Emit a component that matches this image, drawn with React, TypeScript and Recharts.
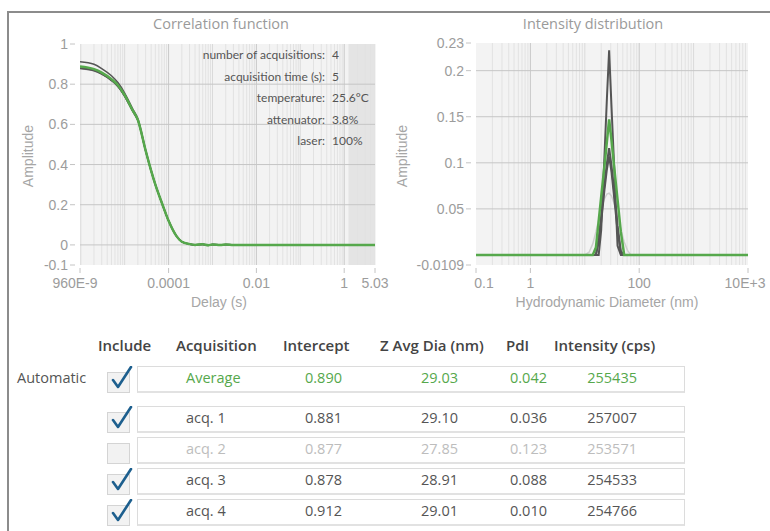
import { CartesianGrid, Line, LineChart, ReferenceArea, ReferenceLine, XAxis, YAxis } from "recharts";

// correlation function (delay in s)
const delays = [9.6e-7, 2e-6, 3e-6, 5e-6, 7e-6, 1e-5, 1.5e-5, 2e-5, 3e-5, 4e-5, 5e-5, 7e-5, 1e-4, 1.5e-4, 2e-4, 3e-4, 4e-4, 6e-4, 8e-4, 1e-3, 1.5e-3, 2e-3, 3e-3, 5e-3, 1e-2, 0.1, 1, 5.03];
const corrAvg = [0.888, 0.875, 0.858, 0.825, 0.795, 0.745, 0.672, 0.622, 0.47, 0.37, 0.3, 0.21, 0.12, 0.045, 0.016, 0.004, 0.0, 0.003, -0.002, 0.002, -0.001, 0.002, 0.0, 0.0, 0.0, 0.0, 0.0, 0.0];
const corrAcq1 = [0.881, 0.869, 0.852, 0.82, 0.79, 0.741, 0.669, 0.62, 0.468, 0.368, 0.299, 0.209, 0.12, 0.045, 0.016, 0.004, 0.001, 0.002, -0.001, 0.003, 0.0, 0.001, 0.0, 0.0, 0.0, 0.0, 0.0, 0.0];
const corrAcq2 = [0.877, 0.866, 0.85, 0.818, 0.789, 0.74, 0.668, 0.619, 0.467, 0.367, 0.298, 0.208, 0.119, 0.044, 0.016, 0.005, 0.002, 0.0, 0.002, -0.001, 0.002, 0.0, 0.001, 0.0, 0.0, 0.0, 0.0, 0.0];
const corrAcq3 = [0.878, 0.867, 0.85, 0.818, 0.789, 0.74, 0.668, 0.619, 0.467, 0.368, 0.299, 0.209, 0.12, 0.045, 0.016, 0.003, 0.0, 0.004, -0.003, 0.001, -0.002, 0.003, 0.0, 0.0, 0.0, 0.0, 0.0, 0.0];
const corrAcq4 = [0.912, 0.899, 0.878, 0.842, 0.808, 0.756, 0.68, 0.628, 0.474, 0.373, 0.302, 0.212, 0.121, 0.046, 0.016, 0.004, 0.0, 0.002, -0.002, 0.002, -0.001, 0.001, 0.0, 0.0, 0.0, 0.0, 0.0, 0.0];
const corrTicksX = [9.6e-7, 1e-4, 0.01, 1, 5.03];
const corrTickLabels = ["960E-9", "0.0001", "0.01", "1", "5.03"];
const corrTicksY = [1, 0.8, 0.6, 0.4, 0.2, 0, -0.1];

// intensity distribution (hydrodynamic diameter in nm)
const sizes = [0.1, 1, 10, 12, 14, 16, 18, 20, 23, 25.5, 28, 31, 35, 40, 46, 53, 61, 70, 80, 100, 1000, 10000];
const distAvg = [0, 0, 0, 0, 0, 0.008, 0.037, 0.063, 0.097, 0.123, 0.147, 0.124, 0.093, 0.06, 0.025, 0, 0, 0, 0, 0, 0, 0];
const distAcq1 = [0, 0, 0, 0, 0, 0, 0.018, 0.042, 0.077, 0.1, 0.116, 0.097, 0.066, 0.032, 0.004, 0, 0, 0, 0, 0, 0, 0];
const distAcq2 = [0, 0, 0, 0.003, 0.012, 0.025, 0.038, 0.05, 0.061, 0.066, 0.067, 0.064, 0.055, 0.042, 0.028, 0.014, 0.005, 0, 0, 0, 0, 0];
const distAcq3 = [0, 0, 0, 0, 0, 0, 0.014, 0.036, 0.071, 0.093, 0.107, 0.09, 0.06, 0.026, 0.002, 0, 0, 0, 0, 0, 0, 0];
const distAcq4 = [0, 0, 0, 0, 0, 0, 0, 0.027, 0.108, 0.17, 0.222, 0.16, 0.09, 0.01, 0, 0, 0, 0, 0, 0, 0, 0];
const distTicksX = [0.1, 1, 100, 10000];
const distTickLabels = ["0.1", "1", "100", "10E+3"];
const distTicksY = [0.23, 0.2, 0.15, 0.1, 0.05, -0.0109];

// measurement info
const infoLabels = ["number of acquisitions:", "acquisition time (s):", "temperature:", "attenuator:", "laser:"];
const infoValues = ["4", "5", "25.6°C", "3.8%", "100%"];

// results table
const headers = ["Include", "Acquisition", "Intercept", "Z Avg Dia (nm)", "PdI", "Intensity (cps)"];
const acqNames = ["Average", "acq. 1", "acq. 2", "acq. 3", "acq. 4"];
const intercepts = ["0.890", "0.881", "0.877", "0.878", "0.912"];
const zAvg = ["29.03", "29.10", "27.85", "28.91", "29.01"];
const pdi = ["0.042", "0.036", "0.123", "0.088", "0.010"];
const intensities = ["255435", "257007", "253571", "254533", "254766"];
const included = [true, true, false, true, true];

const GREEN = "#56a84c";
const DARK = "#555555";
const LIGHT = "#cfcfcf";
const TICK_FONT = "'Liberation Sans', Arial, sans-serif";
const UI_FONT = "'Open Sans', sans-serif";

const corrData = delays.map((d, i) => ({
  x: d, avg: corrAvg[i], a1: corrAcq1[i], a2: corrAcq2[i], a3: corrAcq3[i], a4: corrAcq4[i]
}));
const distData = sizes.map((d, i) => ({
  x: d, avg: distAvg[i], a1: distAcq1[i], a2: distAcq2[i], a3: distAcq3[i], a4: distAcq4[i]
}));

// minor / major gridline positions for a log axis
function logGrid(lo: number, hi: number) {
  const minor: number[] = [];
  const major: number[] = [];
  for (let e = Math.floor(Math.log10(lo)); e <= Math.ceil(Math.log10(hi)); e++) {
    for (let m = 1; m < 10; m++) {
      const v = m * Math.pow(10, e);
      if (v <= lo || v >= hi) continue;
      if (m === 1) major.push(v);
      else minor.push(v);
    }
  }
  return { minor, major };
}

function makeYTick(fmt: (v: number) => string) {
  return (props: any) => {
    const { x, y, payload } = props;
    return (
      <g>
        <line x1={x - 10} x2={x - 5} y1={y} y2={y} stroke="#c4c4c4" />
        <text x={x - 12} y={y} dy={5} textAnchor="end" fill="#9c9c9c" fontSize={14} fontFamily={TICK_FONT}>
          {fmt(payload.value)}
        </text>
      </g>
    );
  };
}

function makeXTick(values: number[], labels: string[], shifts: number[]) {
  return (props: any) => {
    const { x, y, payload } = props;
    const i = values.findIndex((v) => Math.abs(v - payload.value) / v < 1e-6);
    return (
      <g>
        <line x1={x} x2={x} y1={y + 3} y2={y + 8} stroke="#c4c4c4" />
        <text x={x + (shifts[i] || 0)} y={y + 23} textAnchor="middle" fill="#9c9c9c" fontSize={14} fontFamily={TICK_FONT}>
          {i >= 0 ? labels[i] : ""}
        </text>
      </g>
    );
  };
}

function Text({ left, top, children, style }: any) {
  return (
    <div style={{ position: "absolute", left, top, whiteSpace: "nowrap", lineHeight: "1", ...style }}>{children}</div>
  );
}

function CheckBox({ left, top, checked }: { left: number; top: number; checked: boolean }) {
  return (
    <svg style={{ position: "absolute", left, top }} width={28} height={28}>
      <rect x={1.5} y={6.5} width={22} height={20} fill="#f2f2f2" stroke="#d4d4d4" />
      {checked && <path d="M7 14 L12 21 L25 1" fill="none" stroke="#1d5f8e" strokeWidth={2.6} strokeLinecap="round" strokeLinejoin="round" />}
    </svg>
  );
}

function CorrelationChart() {
  const grid = logGrid(9.6e-7, 5.03);
  return (
    <LineChart width={390} height={310} data={corrData} margin={{ top: 44, right: 15, bottom: 15, left: 40 }}>
      <CartesianGrid fill="#f3f3f3" horizontal={false} vertical={false} />
      <ReferenceArea x1={1.25} x2={5.03} y1={-0.1} y2={1} fill="#e4e4e4" fillOpacity={1} stroke="none" />
      {grid.minor.map((v) => (
        <ReferenceLine key={"m" + v} x={v} stroke="#e2e2e2" strokeWidth={1} />
      ))}
      {grid.major.map((v) => (
        <ReferenceLine key={"M" + v} x={v} stroke={v === 1e-4 || v === 0.01 || v === 1 ? "#c9c9c9" : "#dadada"} strokeWidth={1} />
      ))}
      {[0.8, 0.6, 0.4, 0.2, 0].map((v) => (
        <ReferenceLine key={"h" + v} y={v} stroke="#c6c6c6" strokeWidth={1} />
      ))}
      <XAxis
        dataKey="x"
        type="number"
        scale="log"
        domain={[9.6e-7, 5.03]}
        ticks={corrTicksX}
        allowDataOverflow
        axisLine={false}
        tickLine={false}
        tickSize={0}
        tickMargin={0}
        height={30}
        interval={0}
        tick={makeXTick(corrTicksX, corrTickLabels, [-5, 0, 0, 0, 0])}
      />
      <YAxis
        type="number"
        domain={[-0.1, 1]}
        ticks={corrTicksY}
        allowDataOverflow
        axisLine={false}
        tickLine={false}
        tickSize={0}
        tickMargin={0}
        width={40}
        interval={0}
        tick={makeYTick((v) => String(v))}
      />
      <Line type="monotone" dataKey="a2" stroke={LIGHT} strokeWidth={1.5} dot={false} isAnimationActive={false} />
      <Line type="monotone" dataKey="a1" stroke={DARK} strokeWidth={1.5} dot={false} isAnimationActive={false} />
      <Line type="monotone" dataKey="a3" stroke={DARK} strokeWidth={1.5} dot={false} isAnimationActive={false} />
      <Line type="monotone" dataKey="a4" stroke={DARK} strokeWidth={1.5} dot={false} isAnimationActive={false} />
      <Line type="monotone" dataKey="avg" stroke={GREEN} strokeWidth={2.5} dot={false} isAnimationActive={false} />
    </LineChart>
  );
}

function DistributionChart() {
  const grid = logGrid(0.1, 10000);
  return (
    <LineChart width={390} height={310} data={distData} margin={{ top: 43, right: 22, bottom: 15, left: 46 }}>
      <CartesianGrid fill="#f3f3f3" horizontal={false} vertical={false} />
      {grid.minor.map((v) => (
        <ReferenceLine key={"m" + v} x={v} stroke="#e2e2e2" strokeWidth={1} />
      ))}
      {grid.major.map((v) => (
        <ReferenceLine key={"M" + v} x={v} stroke={v === 1 || v === 100 ? "#c9c9c9" : "#dadada"} strokeWidth={1} />
      ))}
      {[0.2, 0.15, 0.1, 0.05].map((v) => (
        <ReferenceLine key={"h" + v} y={v} stroke="#c6c6c6" strokeWidth={1} />
      ))}
      <XAxis
        dataKey="x"
        type="number"
        scale="log"
        domain={[0.1, 10000]}
        ticks={distTicksX}
        allowDataOverflow
        axisLine={false}
        tickLine={false}
        tickSize={0}
        tickMargin={0}
        height={30}
        interval={0}
        tick={makeXTick(distTicksX, distTickLabels, [8, 0, 0, -3])}
      />
      <YAxis
        type="number"
        domain={[-0.0109, 0.23]}
        ticks={distTicksY}
        allowDataOverflow
        axisLine={false}
        tickLine={false}
        tickSize={0}
        tickMargin={0}
        width={50}
        interval={0}
        tick={makeYTick((v) => String(v))}
      />
      <Line type="linear" dataKey="a2" stroke={LIGHT} strokeWidth={1.5} dot={false} isAnimationActive={false} />
      <Line type="linear" dataKey="a1" stroke={DARK} strokeWidth={2} dot={false} isAnimationActive={false} />
      <Line type="linear" dataKey="a3" stroke={DARK} strokeWidth={2} dot={false} isAnimationActive={false} />
      <Line type="linear" dataKey="a4" stroke={DARK} strokeWidth={2} dot={false} isAnimationActive={false} />
      <Line type="linear" dataKey="avg" stroke={GREEN} strokeWidth={2.5} dot={false} isAnimationActive={false} />
    </LineChart>
  );
}

const rowTops = [366, 406, 437, 468, 499];
const headerLefts = [98, 176, 283, 380, 506, 554];

export default function App() {
  const titleStyle = { fontFamily: UI_FONT, fontSize: 14.5, color: "#9a9a9a" };
  const labelStyle = { fontFamily: TICK_FONT, fontSize: 14, color: "#a6a6a6" };
  const cell = { fontFamily: UI_FONT, fontSize: 14.5 };
  return (
    <div style={{ position: "absolute", left: 0, top: 0, width: 770, height: 531, overflow: "hidden", background: "#fff" }}>
      {/* frame */}
      <div style={{ position: "absolute", left: 7, top: 11, width: 763, height: 2, background: "#8c8c8c" }} />
      <div style={{ position: "absolute", left: 7, top: 11, width: 2, height: 520, background: "#8c8c8c" }} />

      <div style={{ position: "absolute", left: 0, top: 0 }}>
        <CorrelationChart />
      </div>
      <div style={{ position: "absolute", left: 380, top: 0 }}>
        <DistributionChart />
      </div>

      <Text left={221} top={17} style={{ ...titleStyle, transform: "translateX(-50%)" }}>Correlation function</Text>
      <Text left={593} top={17} style={{ ...titleStyle, transform: "translateX(-50%)" }}>Intensity distribution</Text>
      <Text left={219} top={295} style={{ ...labelStyle, transform: "translateX(-50%)" }}>Delay (s)</Text>
      <Text left={607} top={295} style={{ ...labelStyle, transform: "translateX(-50%)" }}>Hydrodynamic Diameter (nm)</Text>
      <Text left={28} top={156} style={{ ...labelStyle, transform: "translate(-50%, -50%) rotate(-90deg)" }}>Amplitude</Text>
      <Text left={402} top={156} style={{ ...labelStyle, transform: "translate(-50%, -50%) rotate(-90deg)" }}>Amplitude</Text>

      {infoLabels.map((l, i) => (
        <Text key={l} left={325} top={49 + i * 21.5} style={{ fontFamily: "Lato, sans-serif", fontSize: 12, color: "#555", transform: "translateX(-100%)" }}>{l}</Text>
      ))}
      {infoValues.map((v, i) => (
        <Text key={v} left={332} top={49 + i * 21.5} style={{ fontFamily: "Lato, sans-serif", fontSize: 12, color: "#555" }}>{v}</Text>
      ))}

      {headers.map((h, i) => (
        <Text key={h} left={headerLefts[i]} top={338} style={{ ...cell, fontSize: 15, fontWeight: 600, color: "#444" }}>{h}</Text>
      ))}

      <Text left={17} top={371} style={{ ...cell, color: "#555" }}>Automatic</Text>

      {acqNames.map((n, i) => {
        const top = rowTops[i];
        const color = i === 0 ? GREEN : included[i] ? "#555" : "#bdbdbd";
        const ty = top + 5;
        return (
          <div key={n}>
            <CheckBox left={106} top={top} checked={included[i]} />
            <div style={{ position: "absolute", left: 137, top, width: 548, height: 27, boxSizing: "border-box", border: "1px solid #dcdcdc", borderBottom: "2px solid #e2e2e2", background: "#fff" }} />
            <Text left={186} top={ty} style={{ ...cell, color }}>{n}</Text>
            <Text left={342} top={ty} style={{ ...cell, color, transform: "translateX(-100%)" }}>{intercepts[i]}</Text>
            <Text left={458} top={ty} style={{ ...cell, color, transform: "translateX(-100%)" }}>{zAvg[i]}</Text>
            <Text left={547} top={ty} style={{ ...cell, color, transform: "translateX(-100%)" }}>{pdi[i]}</Text>
            <Text left={637} top={ty} style={{ ...cell, color, transform: "translateX(-100%)" }}>{intensities[i]}</Text>
          </div>
        );
      })}
    </div>
  );
}
